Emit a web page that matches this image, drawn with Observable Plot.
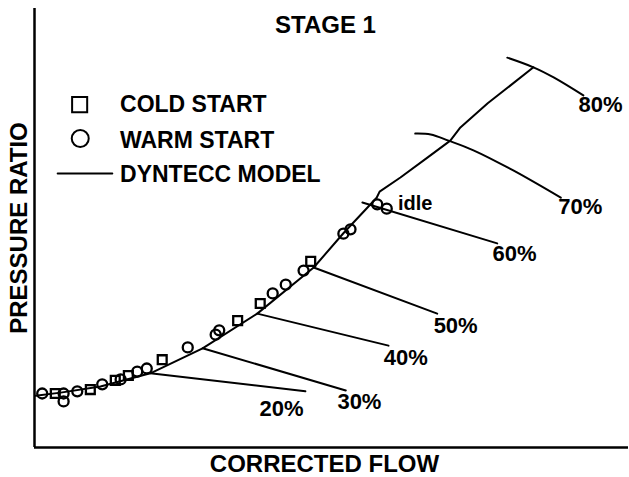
<!DOCTYPE html>
<html>
<head>
<meta charset="utf-8">
<script src="https://cdn.jsdelivr.net/npm/d3@7"></script>
<script src="https://cdn.jsdelivr.net/npm/@observablehq/plot@0.6"></script>
<style>
  html, body { margin: 0; padding: 0; background: #fff; }
  #chart { width: 629px; height: 477px; }
</style>
</head>
<body>
<div id="chart"></div>
<script>
// ---- Data (arbitrary units: flow 0-100, pressure ratio 0-100) ----
const titleText = "STAGE 1";
const xLabel = "CORRECTED FLOW";
const yLabel = "PRESSURE RATIO";

// DYNTECC model operating line
const modelFlow = [0.2, 4.4, 11.1, 19.5, 28.3, 37.5, 47.0, 52.0, 57.6, 58.1, 61.6, 66.2, 70.0, 71.7, 76.3, 84.0];
const modelPR   = [11.8, 12.5, 13.9, 16.9, 22.6, 30.5, 41.0, 48.8, 56.9, 58.3, 61.5, 66.1, 69.9, 72.9, 78.4, 86.6];

// Cold start data (squares)
const coldFlow = [3.5, 9.4, 13.6, 15.8, 21.5, 34.2, 38.0, 46.5];
const coldPR   = [12.3, 13.2, 15.3, 16.4, 20.0, 28.9, 32.8, 42.4];

// Warm start data (circles)
const warmFlow = [1.3, 4.9, 4.9, 7.2, 11.4, 14.5, 17.3, 18.9, 25.8, 30.5, 31.1, 40.1, 42.3, 45.3, 52.0, 53.2, 57.7, 59.3];
const warmPR   = [12.3, 12.3, 10.5, 12.8, 14.4, 15.5, 17.3, 18.0, 22.8, 25.7, 26.7, 35.1, 37.1, 40.3, 48.7, 49.7, 55.4, 54.4];

// Speed lines
const speeds = ["20%", "30%", "40%", "50%", "60%", "70%", "80%"];
const speedFlow = [
  [19.5, 45.6],
  [28.3, 52.4],
  [37.5, 59.6],
  [47.0, 67.8],
  [55.2, 77.9],
  [64.1, 66.7, 69.7, 73.9, 80.6, 88.6],
  [79.6, 84.0, 87.4, 92.4]
];
const speedPR = [
  [16.9, 12.8],
  [22.6, 13.0],
  [30.5, 23.2],
  [41.0, 30.5],
  [55.8, 46.5],
  [71.5, 71.3, 69.9, 67.7, 63.1, 56.9],
  [88.8, 86.6, 84.3, 80.2]
];
const speedLabelFlow = [41.6, 54.7, 62.5, 70.9, 80.8, 91.9, 95.3];
const speedLabelPR   = [8.7, 10.3, 20.5, 27.6, 44.2, 54.7, 78.1];

// "idle" annotation
const idleText = "idle";
const idleFlow = 64.1, idlePR = 55.6;

// Legend
const legendLabels = ["COLD START", "WARM START", "DYNTECC MODEL"];
const legendTextFlow = 14.4;
const legendTextPR = [76.5, 68.3, 60.4];
const legendSquare = {x: 7.6, y: 78.1};
const legendCircle = {x: 7.7, y: 70.4};
const legendLineFlow = [3.9, 13.1];
const legendLinePR = 62.4;

// ---- Tables built from arrays ----
const model = modelFlow.map((x, i) => ({x, y: modelPR[i]}));
const cold = coldFlow.map((x, i) => ({x, y: coldPR[i]}));
const warm = warmFlow.map((x, i) => ({x, y: warmPR[i]}));
const speedRows = speeds.flatMap((s, k) => speedFlow[k].map((x, i) => ({speed: s, x, y: speedPR[k][i]})));
const speedLabels = speeds.map((s, k) => ({speed: s, x: speedLabelFlow[k], y: speedLabelPR[k]}));
const legendRows = legendLabels.map((t, i) => ({t, x: legendTextFlow, y: legendTextPR[i]}));
const legendLine = legendLineFlow.map(x => ({x, y: legendLinePR}));

const font = "'Liberation Sans', Arial, Helvetica, sans-serif";

const chart = Plot.plot({
  width: 629,
  height: 477,
  marginLeft: 34,
  marginRight: 1,
  marginTop: 8,
  marginBottom: 30,
  x: {domain: [0, 100], axis: null},
  y: {domain: [0, 100], axis: null},
  style: {fontFamily: font, background: "#fff", color: "#000", overflow: "visible"},
  marks: [
    // axes frame (left and bottom)
    Plot.ruleX([0], {stroke: "#000", strokeWidth: 2.5}),
    Plot.ruleY([0], {stroke: "#000", strokeWidth: 2.5}),
    // speed lines
    Plot.line(speedRows, {x: "x", y: "y", z: "speed", stroke: "#000", strokeWidth: 2, curve: "catmull-rom"}),
    // model line
    Plot.line(model, {x: "x", y: "y", stroke: "#000", strokeWidth: 2, curve: "linear"}),
    // data points
    Plot.dot(cold, {x: "x", y: "y", symbol: "square", r: 5, stroke: "#000", strokeWidth: 2.3, fill: "none"}),
    Plot.dot(warm, {x: "x", y: "y", symbol: "circle", r: 5, stroke: "#000", strokeWidth: 2.3, fill: "none"}),
    // speed labels
    Plot.text(speedLabels, {x: "x", y: "y", text: "speed", fontSize: 22, fontWeight: "bold", fill: "#000"}),
    Plot.text([idleText], {x: () => idleFlow, y: () => idlePR, text: d => d, fontSize: 20, fontWeight: "bold", fill: "#000"}),
    // legend
    Plot.dot([legendSquare], {x: "x", y: "y", symbol: "square", r: 8.5, stroke: "#000", strokeWidth: 2, fill: "none"}),
    Plot.dot([legendCircle], {x: "x", y: "y", symbol: "circle", r: 8.5, stroke: "#000", strokeWidth: 2, fill: "none"}),
    Plot.line(legendLine, {x: "x", y: "y", stroke: "#000", strokeWidth: 2}),
    Plot.text(legendRows, {x: "x", y: "y", text: "t", textAnchor: "start", lineAnchor: "bottom", fontSize: 23, fontWeight: "bold", fill: "#000"}),
    // title
    Plot.text([titleText], {frameAnchor: "top", text: d => d, lineAnchor: "bottom", dy: 24, dx: -6, fontSize: 24, fontWeight: "bold", fill: "#000"}),
    // axis labels
    Plot.text([xLabel], {frameAnchor: "bottom", text: d => d, lineAnchor: "bottom", dy: 24, dx: -7, fontSize: 24, fontWeight: "bold", fill: "#000"}),
    Plot.text([yLabel], {frameAnchor: "left", text: d => d, rotate: -90, textAnchor: "middle", lineAnchor: "middle", dx: -15, dy: 0, fontSize: 24, fontWeight: "bold", fill: "#000"})
  ]
});
document.getElementById("chart").appendChild(chart);
</script>
</body>
</html>
